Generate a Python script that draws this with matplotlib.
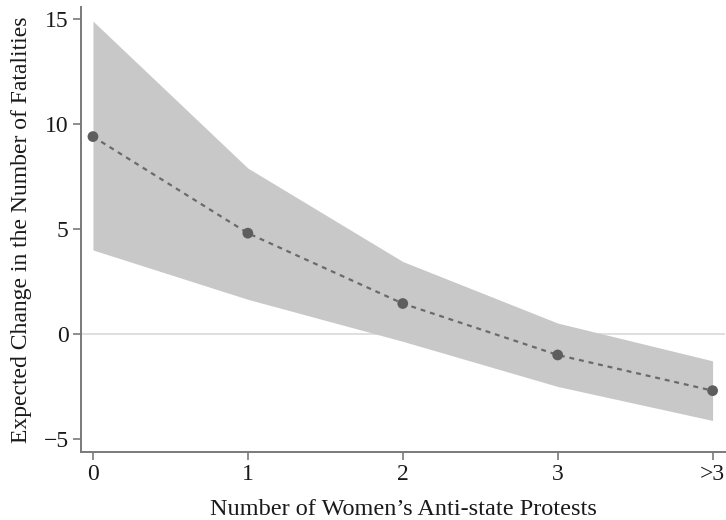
import matplotlib
matplotlib.use("Agg")
import matplotlib.pyplot as plt
import numpy as np

categories = ["0", "1", "2", "3", ">3"]
estimate = [9.4, 4.8, 1.45, -1.0, -2.7]
upper = [14.9, 7.9, 3.45, 0.52, -1.28]
lower = [4.0, 1.65, -0.35, -2.5, -4.12]
yticks = [-5, 0, 5, 10, 15]

plt.rcParams['font.family'] = ['Liberation Serif', 'DejaVu Serif']

fig = plt.figure(figsize=(7.26, 5.2), dpi=100)
ax = fig.add_axes([0.1116, 0.1308, 0.8870, 0.8557])

x = np.arange(len(categories))
ax.axhline(0, color='#d9d9d9', lw=1.2, zorder=1)
ax.fill_between(x, lower, upper, color='#c8c8c8', lw=0, zorder=2)
ax.plot(x, estimate, color='#6a6a6a', lw=1.6, ls=(0, (2.2, 2.2)), zorder=3)
ax.scatter(x, estimate, s=60, color='#5e5e5e', zorder=4, edgecolors='none')

ax.set_xlim(-0.077, 4.08)
ax.set_ylim(-5.62, 15.57)
ax.set_xticks(x)
ax.set_xticklabels(categories)
ax.set_yticks(yticks)
ax.set_yticklabels([str(v).replace('-', '\u2212') for v in yticks])

for s in ['top', 'right']:
    ax.spines[s].set_visible(False)
for s in ['left', 'bottom']:
    ax.spines[s].set_color('#7a7a7a')
    ax.spines[s].set_linewidth(1.4)
ax.tick_params(axis='both', direction='out', length=6, width=1.2, color='#7a7a7a',
               labelsize=17, labelcolor='#1a1a1a', pad=3)

ax.set_xlabel("Number of Women\u2019s Anti-state Protests", fontsize=17.5, color='#1a1a1a', labelpad=10)
ax.set_ylabel("Expected Change in the Number of Fatalities", fontsize=17, color='#1a1a1a', labelpad=8)

fig.savefig("out.png", dpi=100)
